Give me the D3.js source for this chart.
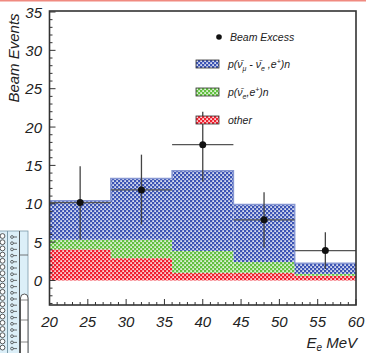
<!DOCTYPE html>
<html>
<head>
<meta charset="utf-8">
<script src="https://cdn.jsdelivr.net/npm/d3@7"></script>
<style>
  html, body { margin: 0; padding: 0; background: #fff; }
  svg { display: block; }
  text { font-family: "Liberation Sans", Arial, sans-serif; font-style: italic; fill: #222; }
</style>
</head>
<body>
<svg id="chart" width="366" height="353"></svg>
<script>
// bin edges (MeV)
const binEdges = [20, 28, 36, 44, 52, 60];
// stacked components per bin
const otherBg = [4.05, 2.9, 1.0, 1.0, 0.6];
const nueBg = [1.25, 2.4, 2.85, 1.4, 0.25];
const numuNue = [5.1, 8.0, 10.45, 7.5, 1.4];
// beam excess points
const excessE = [24, 32, 40, 48, 56];
const excessVal = [10.15, 11.8, 17.7, 7.9, 3.9];
const excessHi = [14.9, 16.4, 22.0, 11.5, 6.3];
const excessLo = [5.3, 7.3, 12.9, 4.3, 1.5];
// tick labels
const xTickVals = [20, 25, 30, 35, 40, 45, 50, 55, 60];
const yTickVals = [0, 5, 10, 15, 20, 25, 30, 35];

const svg = d3.select("#chart");

const x = d3.scaleLinear().domain([20, 60]).range([49.5, 356]);
const y = d3.scaleLinear().domain([-3.2, 35]).range([305, 12]);

// hatch-like fills
const defs = svg.append("defs");
const fills = { blue: "#3c54b4", green: "#62c040", red: "#f0202f" };
Object.entries(fills).forEach(([name, c]) => {
  const p = defs.append("pattern")
    .attr("id", "pat-" + name)
    .attr("patternUnits", "userSpaceOnUse")
    .attr("width", 4).attr("height", 4);
  p.append("rect").attr("width", 4).attr("height", 4).attr("fill", c);
  p.append("rect").attr("x", 0.3).attr("y", 0.3).attr("width", 1.6).attr("height", 1.6).attr("fill", "#fff");
  p.append("rect").attr("x", 2.3).attr("y", 2.3).attr("width", 1.6).attr("height", 1.6).attr("fill", "#fff");
});

// pink strip across the top
svg.append("rect").attr("x", 0).attr("y", 0).attr("width", 366).attr("height", 1.5).attr("fill", "#f08a80");

// stacked histogram
const bins = d3.range(otherBg.length).map(i => {
  const r = otherBg[i], g = r + nueBg[i], b = g + numuNue[i];
  return { x0: binEdges[i], x1: binEdges[i + 1], layers: [[0, r, "red"], [r, g, "green"], [g, b, "blue"]] };
});

const hist = svg.append("g");
bins.forEach(bn => {
  bn.layers.forEach(([lo, hi, name]) => {
    hist.append("rect")
      .attr("x", x(bn.x0))
      .attr("width", x(bn.x1) - x(bn.x0))
      .attr("y", y(hi))
      .attr("height", y(lo) - y(hi))
      .attr("fill", `url(#pat-${name})`);
  });
});

// outline of the total
const outline = [];
bins.forEach(bn => {
  const top = bn.layers[2][1];
  outline.push([x(bn.x0), y(top)], [x(bn.x1), y(top)]);
});
hist.append("path")
  .attr("d", d3.line()(outline))
  .attr("fill", "none")
  .attr("stroke", "#8797d2")
  .attr("stroke-width", 1.5);

// beam excess with error bars
const pts = svg.append("g");
excessE.forEach((e, i) => {
  pts.append("line")
    .attr("x1", x(binEdges[i])).attr("x2", x(binEdges[i + 1]))
    .attr("y1", y(excessVal[i])).attr("y2", y(excessVal[i]))
    .attr("stroke", "#555").attr("stroke-width", 1.3);
  pts.append("line")
    .attr("x1", x(e)).attr("x2", x(e))
    .attr("y1", y(excessHi[i])).attr("y2", y(excessLo[i]))
    .attr("stroke", "#444").attr("stroke-width", 1.3);
  pts.append("circle")
    .attr("cx", x(e)).attr("cy", y(excessVal[i]))
    .attr("r", 3.5).attr("fill", "#111");
});

// frame
svg.append("rect")
  .attr("x", x(20)).attr("y", y(35) - 1)
  .attr("width", x(60) - x(20)).attr("height", y(-3.2) - y(35) + 1)
  .attr("fill", "none").attr("stroke", "#333").attr("stroke-width", 1.6);

// inward ticks
const ticks = svg.append("g").attr("stroke", "#333").attr("stroke-width", 1);
d3.range(-3, 36).forEach(v => {
  const len = v % 5 === 0 ? 6 : 3;
  ticks.append("line")
    .attr("x1", x(20)).attr("x2", x(20) + len)
    .attr("y1", y(v)).attr("y2", y(v));
});
d3.range(20, 61).forEach(v => {
  const len = v % 5 === 0 ? 6 : 3;
  ticks.append("line")
    .attr("x1", x(v)).attr("x2", x(v))
    .attr("y1", y(-3.2)).attr("y2", y(-3.2) - len);
});

// tick labels
svg.append("g").selectAll("text").data(yTickVals).join("text")
  .attr("x", 42).attr("y", d => y(d) + 5.5)
  .attr("text-anchor", "end")
  .attr("font-size", 15)
  .text(d => d);
svg.append("g").selectAll("text").data(xTickVals).join("text")
  .attr("x", d => x(d)).attr("y", 327)
  .attr("text-anchor", "middle")
  .attr("font-size", 15)
  .text(d => d);

// axis titles
svg.append("text")
  .attr("transform", "translate(19,58) rotate(-90)")
  .attr("text-anchor", "middle")
  .attr("font-size", 15)
  .text("Beam Events");
const xt = svg.append("text")
  .attr("x", 357).attr("y", 348)
  .attr("text-anchor", "end")
  .attr("font-size", 15);
xt.append("tspan").text("E");
xt.append("tspan").attr("dy", 3).attr("font-size", 10).text("e");
xt.append("tspan").attr("dy", -3).text(" MeV");

// legend
const lg = svg.append("g");
lg.append("circle").attr("cx", 219).attr("cy", 37).attr("r", 2.8).attr("fill", "#111");
lg.append("text").attr("x", 230).attr("y", 41).attr("font-size", 10.5).text("Beam Excess");

const legendRows = [
  { name: "blue", y: 64, label: [["p(ν̄", 0], ["μ", 1], [" - ν̄", 0], ["e", 1], [" ,e", 0], ["+", -1], [")n", 0]] },
  { name: "green", y: 92, label: [["p(ν̄", 0], ["e", 1], [",e", 0], ["+", -1], [")n", 0]] },
  { name: "red", y: 120, label: [["other", 0]] }
];
legendRows.forEach(row => {
  lg.append("rect")
    .attr("x", 196).attr("y", row.y - 4)
    .attr("width", 23).attr("height", 8)
    .attr("fill", `url(#pat-${row.name})`)
    .attr("stroke", "#333").attr("stroke-width", 0.8);
  const t = lg.append("text").attr("x", 228).attr("y", row.y + 4).attr("font-size", 10.5);
  let shift = 0;
  row.label.forEach(([s, k]) => {
    const target = k === 1 ? 3 : k === -1 ? -4 : 0;
    t.append("tspan")
      .attr("dy", target - shift)
      .attr("font-size", k === 0 ? 10.5 : 7)
      .text(s);
    shift = target;
  });
});

// strip of an adjacent drawing at the lower left
const side = svg.append("g");
side.append("rect").attr("x", -1).attr("y", 231).attr("width", 29).attr("height", 125)
  .attr("fill", "#dcefF8").attr("stroke", "#7a9aa8").attr("stroke-width", 0.8);
side.append("line").attr("x1", 7.5).attr("x2", 7.5).attr("y1", 231).attr("y2", 353).attr("stroke", "#7a9aa8");
side.append("line").attr("x1", 19.5).attr("x2", 19.5).attr("y1", 231).attr("y2", 353).attr("stroke", "#555");
d3.range(236, 353, 6.2).forEach(cy => {
  side.append("circle").attr("cx", 2.5).attr("cy", cy).attr("r", 2.4)
    .attr("fill", "#fff").attr("stroke", "#333").attr("stroke-width", 0.8);
  side.append("circle").attr("cx", 12).attr("cy", cy + 1).attr("r", 1.4)
    .attr("fill", "none").attr("stroke", "#333").attr("stroke-width", 0.7);
  side.append("line").attr("x1", 13.4).attr("x2", 17).attr("y1", cy + 1).attr("y2", cy + 1)
    .attr("stroke", "#333").attr("stroke-width", 0.7);
});
side.append("line").attr("x1", 20).attr("x2", 28).attr("y1", 255).attr("y2", 255).attr("stroke", "#555").attr("stroke-width", 0.8);
side.append("path")
  .attr("d", "M20.5,356 L20.5,298 Q20.5,294 24.5,294 Q28,294 28,298 L28,356")
  .attr("fill", "#fff").attr("stroke", "#444").attr("stroke-width", 0.9);
[300, 320, 342].forEach(ly => {
  side.append("line").attr("x1", 20.5).attr("x2", 28).attr("y1", ly).attr("y2", ly)
    .attr("stroke", "#555").attr("stroke-width", 0.7);
});
</script>
</body>
</html>
